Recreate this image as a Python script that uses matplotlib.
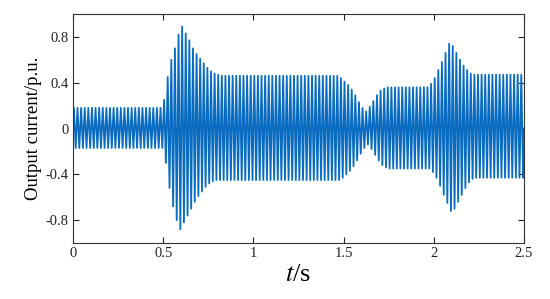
import numpy as np
import matplotlib
matplotlib.use("Agg")
import matplotlib.pyplot as plt

# carrier period (s) of the output current
period = 0.02

# per-cycle positive peaks (p.u.)
pos_peaks = ([0.18] * 25
             + [0.25, 0.45, 0.60, 0.70, 0.82, 0.89, 0.83, 0.77, 0.70, 0.65,
                0.61, 0.57, 0.53, 0.50, 0.48, 0.47]
             + [0.46] * 33
             + [0.44, 0.41, 0.38, 0.34, 0.29, 0.23, 0.18, 0.15, 0.19, 0.24,
                0.29, 0.33, 0.35]
             + [0.36] * 12
             + [0.39, 0.44, 0.51, 0.58, 0.66, 0.74, 0.72, 0.66, 0.60, 0.55,
                0.51, 0.48]
             + [0.47] * 14)

# per-cycle negative peaks (p.u.)
neg_peaks = ([-0.17] * 25
             + [-0.30, -0.52, -0.68, -0.80, -0.88, -0.82, -0.76, -0.70, -0.64,
                -0.59, -0.55, -0.51, -0.48, -0.46, -0.45, -0.45]
             + [-0.45] * 33
             + [-0.43, -0.40, -0.37, -0.33, -0.28, -0.22, -0.17, -0.14, -0.18,
                -0.23, -0.28, -0.32, -0.34]
             + [-0.35] * 12
             + [-0.38, -0.43, -0.50, -0.58, -0.65, -0.72, -0.70, -0.64, -0.58,
                -0.52, -0.47, -0.44]
             + [-0.43] * 14)

xticks = [0, 0.5, 1, 1.5, 2, 2.5]
xticklabels = ["0", "0.5", "1", "1.5", "2", "2.5"]
yticks = [-0.8, -0.4, 0, 0.4, 0.8]
yticklabels = ["-0.8", "-0.4", "0", "0.4", "0.8"]

n = len(pos_peaks)
k = np.arange(n)
t = np.empty(2 * n)
y = np.empty(2 * n)
t[0::2] = k * period + period / 4
t[1::2] = k * period + 3 * period / 4
y[0::2] = pos_peaks
y[1::2] = neg_peaks
t = np.concatenate([[0.0], t, [n * period]])
y = np.concatenate([[0.0], y, [0.0]])

plt.rcParams['font.family'] = ['Liberation Serif', 'DejaVu Serif']
plt.rcParams['mathtext.fontset'] = 'stix'

fig = plt.figure(figsize=(5.5, 2.99), dpi=100)
ax = fig.add_axes([73 / 550, 1 - 243 / 299, (524 - 73) / 550, (243 - 14) / 299])
ax.plot(t, y, color='#0a6cc0', linewidth=1.3)
ax.set_xlim(0, 2.5)
ax.set_ylim(-1, 1)
ax.set_xticks(xticks)
ax.set_xticklabels(xticklabels)
ax.set_yticks(yticks)
ax.set_yticklabels(yticklabels)
ax.tick_params(direction='in', top=True, right=True, length=4, width=0.8,
               labelsize=10.5, colors='#222222', pad=3)
for s in ax.spines.values():
    s.set_linewidth(0.8)
    s.set_color('#333333')
ax.set_ylabel('Output current/p.u.', fontsize=13.5, labelpad=3)
ax.set_xlabel(r'$t$/s', fontsize=19, labelpad=3)
fig.savefig('out.png', dpi=100)
